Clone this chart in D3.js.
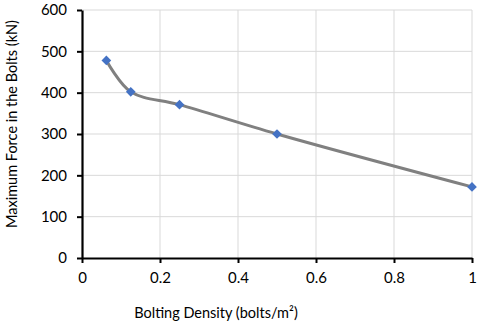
<!DOCTYPE html>
<html>
<head>
<meta charset="utf-8">
<script src="https://cdn.jsdelivr.net/npm/d3@7"></script>
<style>
  body { margin: 0; background: #fff; }
  text { font-family: Lato, "Open Sans", sans-serif; fill: #000; }
</style>
</head>
<body>
<svg id="chart"></svg>
<script>
const WIDTH = 480, HEIGHT = 324;
const margin = { top: 10, bottom: 66, left: 82, right: 8 };
const width = 472 - margin.left,
      height = 258 - margin.top;

// bolting density (bolts/m2) vs max force (kN)
const density = [0.0625, 0.125, 0.25, 0.5, 1];
const force = [478, 402, 371, 300, 172];
const xTicks = [0, 0.2, 0.4, 0.6, 0.8, 1];
const yTicks = [0, 100, 200, 300, 400, 500, 600];

const data = density.map((d, i) => ({ x: d, y: force[i] }));

const svg = d3.select("svg#chart")
              .attr("width", WIDTH)
              .attr("height", HEIGHT);

const g = svg.append("g")
             .attr("transform", `translate(${margin.left}, ${margin.top})`);

const xScale = d3.scaleLinear().domain([0, 1]).range([0, width]);
const yScale = d3.scaleLinear().domain([0, 600]).range([height, 0]);

// gridlines
g.append("g").selectAll("line")
  .data(yTicks.slice(1))
  .join("line")
    .attr("x1", 0).attr("x2", width)
    .attr("y1", d => yScale(d)).attr("y2", d => yScale(d))
    .attr("stroke", "#d9d9d9").attr("stroke-width", 1);

g.append("g").selectAll("line")
  .data(xTicks.slice(1))
  .join("line")
    .attr("x1", d => xScale(d)).attr("x2", d => xScale(d))
    .attr("y1", 0).attr("y2", height)
    .attr("stroke", "#d9d9d9").attr("stroke-width", 1);

const xAxis = g.append("g")
  .attr("transform", `translate(0, ${height})`)
  .call(d3.axisBottom(xScale).tickValues(xTicks).tickFormat(d3.format("")).tickSize(5).tickSizeOuter(0).tickPadding(9));

const yAxis = g.append("g")
  .call(d3.axisLeft(yScale).tickValues(yTicks).tickSize(5).tickSizeOuter(0).tickPadding(10));

[xAxis, yAxis].forEach(ax => {
  ax.select(".domain").attr("stroke", "#000").attr("stroke-width", 2.2);
  ax.selectAll(".tick line").attr("stroke", "#000").attr("stroke-width", 2);
  ax.selectAll(".tick text").style("font-size", "15px").attr("fill", "#000");
});

const line = d3.line()
  .x(d => xScale(d.x))
  .y(d => yScale(d.y))
  .curve(d3.curveCatmullRom.alpha(0.5));

g.append("path")
  .datum(data)
  .attr("d", line)
  .attr("fill", "none")
  .attr("stroke", "#808080")
  .attr("stroke-width", 3);

g.selectAll("path.marker")
  .data(data)
  .join("path")
    .attr("class", "marker")
    .attr("d", d3.symbol().type(d3.symbolDiamond2).size(60))
    .attr("transform", d => `translate(${xScale(d.x)}, ${yScale(d.y)})`)
    .attr("fill", "#4472c4");

svg.append("text")
  .attr("transform", `translate(${margin.left + 134}, 318)`)
  .style("text-anchor", "middle")
  .style("font-size", "14.5px")
  .text("Bolting Density (bolts/m²)");

svg.append("text")
  .attr("transform", "rotate(-90) translate(-124, 17)")
  .style("text-anchor", "middle")
  .style("font-size", "14.5px")
  .text("Maximum Force in the Bolts (kN)");
</script>
</body>
</html>
